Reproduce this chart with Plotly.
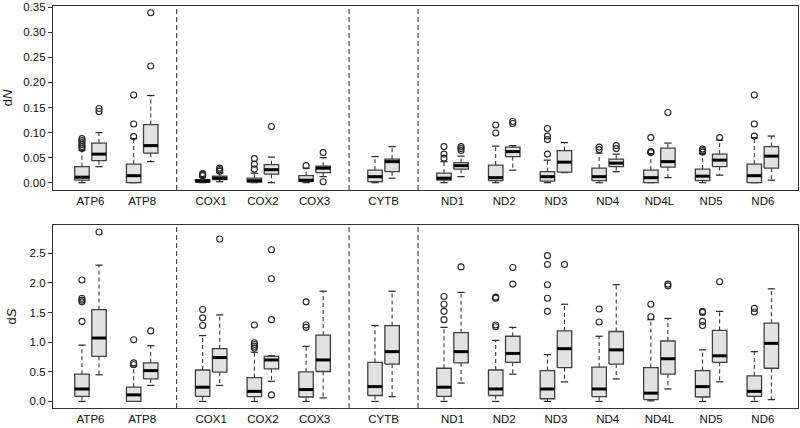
import plotly.graph_objects as go

# ---------------- data ----------------
gene_groups = [["ATP6", "ATP8"], ["COX1", "COX2", "COX3"], ["CYTB"],
               ["ND1", "ND2", "ND3", "ND4", "ND4L", "ND5", "ND6"]]
genes = [g for grp in gene_groups for g in grp]

dn_ticks = [0.00, 0.05, 0.10, 0.15, 0.20, 0.25, 0.30, 0.35]
ds_ticks = [0.0, 0.5, 1.0, 1.5, 2.0, 2.5]

# dN, first (left) box of each gene
dN1_lo  = [0.0, 0.0, 0.0, 0.0, 0.0, 0.0, 0.0, 0.0, 0.0, 0.0, 0.0, 0.0, 0.0]
dN1_q1  = [0.005, 0.0, 0.001, 0.001, 0.002, 0.002, 0.005, 0.004, 0.003, 0.004, 0.0, 0.004, 0.0]
dN1_med = [0.011, 0.014, 0.003, 0.004, 0.005, 0.012, 0.009, 0.010, 0.012, 0.012, 0.010, 0.013, 0.014]
dN1_q3  = [0.032, 0.037, 0.006, 0.009, 0.014, 0.025, 0.019, 0.035, 0.022, 0.029, 0.025, 0.027, 0.037]
dN1_hi  = [0.065, 0.088, 0.012, 0.019, 0.029, 0.052, 0.042, 0.073, 0.045, 0.059, 0.058, 0.058, 0.090]
dN1_out = [[0.068, 0.072, 0.076, 0.080, 0.084, 0.088], [0.092, 0.117, 0.175], [0.014, 0.016, 0.018],
           [0.027, 0.037, 0.048], [0.034], [], [0.049, 0.057, 0.072], [0.099, 0.115],
           [0.057, 0.086, 0.093, 0.108], [0.066, 0.071], [0.060, 0.062, 0.090],
           [0.061, 0.064, 0.067], [0.093, 0.117, 0.175]]

# dN, second (right) box of each gene
dN2_lo  = [0.032, 0.042, 0.002, 0.0, 0.012, 0.009, 0.012, 0.025, 0.020, 0.022, 0.010, 0.015, 0.005]
dN2_q1  = [0.044, 0.059, 0.006, 0.017, 0.020, 0.022, 0.027, 0.052, 0.021, 0.032, 0.031, 0.032, 0.029]
dN2_med = [0.057, 0.074, 0.009, 0.026, 0.029, 0.042, 0.034, 0.062, 0.041, 0.039, 0.042, 0.045, 0.053]
dN2_q3  = [0.079, 0.116, 0.013, 0.036, 0.033, 0.047, 0.040, 0.071, 0.064, 0.047, 0.069, 0.057, 0.072]
dN2_hi  = [0.100, 0.174, 0.020, 0.051, 0.050, 0.072, 0.053, 0.074, 0.080, 0.057, 0.079, 0.085, 0.093]
dN2_out = [[0.142, 0.148], [0.233, 0.339], [0.023, 0.026, 0.029], [0.112], [0.002, 0.060], [],
           [0.064, 0.068, 0.072], [0.118, 0.122], [], [0.068, 0.074], [0.140], [0.090], []]

# dS, first (left) box of each gene
dS1_lo  = [0.0, 0.0, 0.0, 0.0, 0.0, 0.0, 0.0, 0.0, 0.0, 0.0, 0.01, 0.0, 0.0]
dS1_q1  = [0.085, 0.0, 0.085, 0.08, 0.075, 0.10, 0.085, 0.10, 0.045, 0.08, 0.03, 0.075, 0.085]
dS1_med = [0.21, 0.11, 0.24, 0.17, 0.20, 0.25, 0.24, 0.21, 0.21, 0.21, 0.14, 0.25, 0.17]
dS1_q3  = [0.46, 0.24, 0.53, 0.40, 0.50, 0.66, 0.56, 0.53, 0.52, 0.58, 0.57, 0.52, 0.43]
dS1_hi  = [0.95, 0.60, 1.11, 0.83, 0.93, 1.28, 1.25, 1.03, 0.79, 1.10, 1.38, 0.87, 0.84]
dS1_out = [[1.35, 1.68, 1.71, 1.74, 2.05], [0.62, 0.65, 1.04], [1.28, 1.41, 1.55],
           [0.90, 0.93, 0.96, 0.99, 1.29], [1.25, 1.29, 1.68], [], [1.38, 1.52, 1.64, 1.77],
           [1.26, 1.29, 1.74, 1.76], [1.52, 1.74, 1.97, 2.31, 2.46], [1.34, 1.56], [1.43, 1.64],
           [1.28, 1.35, 1.50, 1.52], [1.51, 1.57]]

# dS, second (right) box of each gene
dS2_lo  = [0.45, 0.27, 0.27, 0.34, 0.06, 0.08, 0.31, 0.46, 0.33, 0.38, 0.21, 0.33, 0.03]
dS2_q1  = [0.76, 0.38, 0.495, 0.55, 0.505, 0.63, 0.65, 0.66, 0.57, 0.63, 0.46, 0.66, 0.56]
dS2_med = [1.07, 0.52, 0.74, 0.70, 0.70, 0.84, 0.84, 0.81, 0.89, 0.87, 0.72, 0.77, 0.98]
dS2_q3  = [1.55, 0.65, 0.89, 0.76, 1.12, 1.28, 1.16, 1.10, 1.19, 1.18, 1.02, 1.20, 1.32]
dS2_hi  = [2.30, 0.94, 1.46, 0.77, 1.86, 1.86, 1.84, 1.25, 1.64, 1.97, 1.40, 1.52, 1.90]
dS2_out = [[2.86], [1.19], [2.74], [0.11, 1.38, 2.07, 2.56], [], [], [2.27], [1.98, 2.26],
           [2.31], [], [1.95, 1.98], [2.02], []]

# ---------------- layout helpers ----------------
GAP = 1.0 / 3.0
gene_x = []
sep_x = []
idx = 0
for gi, grp in enumerate(gene_groups):
    for _ in grp:
        gene_x.append(idx + gi * GAP)
        idx += 1
for gi in range(len(gene_groups) - 1):
    last = gene_x[sum(len(g) for g in gene_groups[:gi + 1]) - 1]
    sep_x.append(last + (1 + GAP) / 2)

OFF = 0.165
HALF = 0.14
CAP = 0.07

BOX_FILL = "#e2e2e2"
BOX_LINE = "#404040"
INK = "#262626"

fig = go.Figure()


def add_panel(series, xa, ya):
    wx, wy, cx, cy, bx, by, mx, my, ox, oy = [], [], [], [], [], [], [], [], [], []
    for off, (lo, q1, med, q3, hi, out) in series:
        for i in range(len(genes)):
            c = gene_x[i] + off
            wx += [c, c, None, c, c, None]
            wy += [q3[i], hi[i], None, q1[i], lo[i], None]
            cx += [c - CAP, c + CAP, None, c - CAP, c + CAP, None]
            cy += [hi[i], hi[i], None, lo[i], lo[i], None]
            bx += [c - HALF, c + HALF, c + HALF, c - HALF, c - HALF, None]
            by += [q1[i], q1[i], q3[i], q3[i], q1[i], None]
            mx += [c - HALF, c + HALF, None]
            my += [med[i], med[i], None]
            for v in out[i]:
                ox.append(c)
                oy.append(v)
    common = dict(xaxis=xa, yaxis=ya, showlegend=False, hoverinfo="skip")
    fig.add_trace(go.Scatter(x=wx, y=wy, mode="lines",
                             line=dict(color=INK, width=1, dash="4px,3px"), **common))
    fig.add_trace(go.Scatter(x=cx, y=cy, mode="lines",
                             line=dict(color=INK, width=1.2), **common))
    fig.add_trace(go.Scatter(x=bx, y=by, mode="lines", fill="toself", fillcolor=BOX_FILL,
                             line=dict(color=BOX_LINE, width=1.3), **common))
    fig.add_trace(go.Scatter(x=mx, y=my, mode="lines",
                             line=dict(color="#000000", width=3), **common))
    fig.add_trace(go.Scatter(x=ox, y=oy, mode="markers",
                             marker=dict(symbol="circle-open", size=6, color=INK,
                                         line=dict(width=1.1, color=INK)), **common))


add_panel([(-OFF, (dN1_lo, dN1_q1, dN1_med, dN1_q3, dN1_hi, dN1_out)),
           (OFF, (dN2_lo, dN2_q1, dN2_med, dN2_q3, dN2_hi, dN2_out))], "x", "y")
add_panel([(-OFF, (dS1_lo, dS1_q1, dS1_med, dS1_q3, dS1_hi, dS1_out)),
           (OFF, (dS2_lo, dS2_q1, dS2_med, dS2_q3, dS2_hi, dS2_out))], "x2", "y2")

shapes = []
for s in sep_x:
    for xr, yr in (("x", "y domain"), ("x2", "y2 domain")):
        shapes.append(dict(type="line", xref=xr, yref=yr, x0=s, x1=s, y0=0, y1=1,
                           line=dict(color=INK, width=1, dash="5px,3px")))

FONT = dict(family="Liberation Sans, Arial, sans-serif", size=11.5, color="#111111")
x_range = [-0.725, 13.68]

xaxis_common = dict(range=x_range, tickmode="array", tickvals=gene_x, ticktext=genes,
                    showline=True, mirror=True, linecolor="#333333", linewidth=1.3,
                    ticks="", showgrid=False, zeroline=False, tickfont=FONT,
                    fixedrange=True, automargin=False)
yaxis_common = dict(showline=True, mirror=True, linecolor="#333333", linewidth=1.3,
                    ticks="outside", ticklen=4, tickwidth=1, tickcolor="#333333",
                    showgrid=False, zeroline=False, tickfont=FONT, tickmode="array",
                    fixedrange=True, automargin=False)

fig.update_layout(
    width=800, height=428,
    margin=dict(l=53, r=2, t=6, b=20),
    plot_bgcolor="white", paper_bgcolor="white",
    font=FONT,
    shapes=shapes,
    xaxis=dict(domain=[0, 1], anchor="y", **xaxis_common),
    xaxis2=dict(domain=[0, 1], anchor="y2", **xaxis_common),
    yaxis=dict(domain=[0.5423, 1.0], anchor="x", range=[-0.0146, 0.3526],
               tickvals=dn_ticks, ticktext=[f"{v:.2f}" for v in dn_ticks],
               title=dict(text="d<i>N</i>", font=dict(size=13, family=FONT["family"]), standoff=9),
               **yaxis_common),
    yaxis2=dict(domain=[0.0, 0.4552], anchor="x2", range=[-0.111, 2.977],
                tickvals=ds_ticks, ticktext=[f"{v:.1f}" for v in ds_ticks],
                title=dict(text="d<i>S</i>", font=dict(size=13, family=FONT["family"]), standoff=9),
                **yaxis_common),
)

fig.write_html("out.html", config={"displayModeBar": False},
               post_script="document.body.style.margin='0px';document.body.style.overflow='hidden';")
